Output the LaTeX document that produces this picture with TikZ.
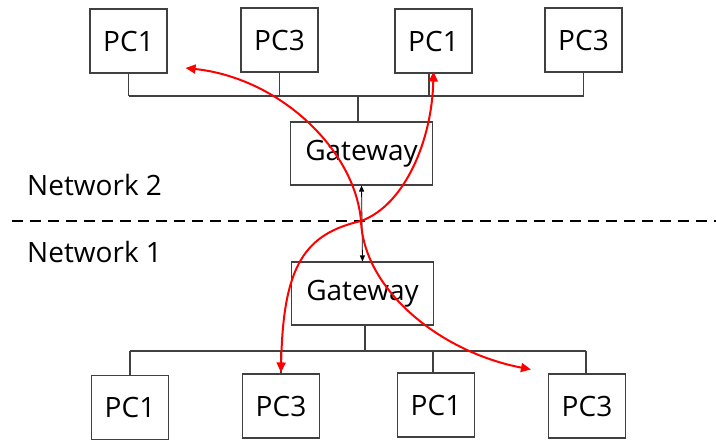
\documentclass[tikz,border=0pt]{standalone}
\usepackage{fontspec}
\setmainfont{Open Sans}
\usetikzlibrary{arrows.meta}
\definecolor{wire}{HTML}{404040}
\begin{document}
\begin{tikzpicture}[x=1pt,y=-1pt,
  pcbox/.style={draw=wire,line width=1.1pt,minimum width=77pt,minimum height=64pt,inner sep=0pt,font=\fontsize{28}{30}\selectfont},
  gwbox/.style={draw=wire,line width=1.1pt,minimum width=142pt,minimum height=63pt,inner sep=0pt,font=\fontsize{28}{30}\selectfont},
  netlabel/.style={anchor=west,inner sep=0pt,font=\fontsize{28}{30}\selectfont},
  bus/.style={draw=wire,line width=1.1pt},
  route/.style={draw=red,line width=2pt,{Triangle[length=10pt,width=9pt]}-{Triangle[length=10pt,width=9pt]}},
  link/.style={draw=black,line width=0.8pt,{Triangle[length=6pt,width=5pt]}-{Triangle[length=6pt,width=5pt]}}]
\useasboundingbox (0,0) rectangle (716,442);

% Network 2 hosts and gateway
\node[pcbox] (t1) at (128.5,41) {PC1};
\node[pcbox] (t2) at (279.5,40) {PC3};
\node[pcbox] (t3) at (433.5,41) {PC1};
\node[pcbox] (t4) at (583.5,40) {PC3};
\node[gwbox] (gt) at (361.5,153.5) {Gateway};

% Network 1 hosts and gateway
\node[gwbox] (gb) at (362.5,293.5) {Gateway};
\node[pcbox] (b1) at (130,407.5) {PC1};
\node[pcbox] (b2) at (281,406) {PC3};
\node[pcbox] (b3) at (436,405) {PC1};
\node[pcbox] (b4) at (587,406) {PC3};

% bus coordinates
\coordinate (busT) at (0,96);
\coordinate (busB) at (0,351);

% upper bus
\draw[bus] (t1.south |- busT) -- (t4.south |- busT);
\draw[bus] (t1.south) -- (t1.south |- busT);
\draw[bus] (t2.south) -- (t2.south |- busT);
\draw[bus] ([xshift=-4.5pt]t3.south) -- ([xshift=-4.5pt]t3.south |- busT);
\draw[bus] (t4.south) -- (t4.south |- busT);
\draw[bus] ([xshift=-3.5pt]gt.north) -- ([xshift=-3.5pt]gt.north |- busT);

% lower bus
\draw[bus] (b1.north |- busB) -- ([xshift=-1pt]b4.north |- busB);
\draw[bus] (b1.north) -- (b1.north |- busB);
\draw[bus] (b2.north) -- (b2.north |- busB);
\draw[bus] ([xshift=-3pt]b3.north) -- ([xshift=-3pt]b3.north |- busB);
\draw[bus] ([xshift=-1pt]b4.north) -- ([xshift=-1pt]b4.north |- busB);
\draw[bus] ([xshift=2.5pt]gb.south) -- ([xshift=2.5pt]gb.south |- busB);

% network boundary
\coordinate (cutL) at (12,221);
\coordinate (cutR) at (716,221);
\draw[black,line width=2pt,dash pattern=on 11pt off 7pt] (cutL) -- (cutR);
\node[netlabel] (n2) at (27,185) {Network 2};
\node[netlabel] (n1) at (27,252) {Network 1};

% gateway-to-gateway link
\draw[link] (gt.south) -- (gb.north);

% routes across the two networks
\coordinate (x) at (361,221);
\draw[route] ([yshift=1pt]b2.north) .. controls (283,265) and (305,234) .. (x)
  .. controls (405,205) and (432,140) .. ([yshift=2pt]t3.south);
\draw[route] ([xshift=18pt,yshift=-27pt]t1.east) .. controls (280,78) and (355,150) .. (x)
  .. controls (364,290) and (440,352) .. ([xshift=-17pt,yshift=4pt]b4.north west);
\end{tikzpicture}
\end{document}
